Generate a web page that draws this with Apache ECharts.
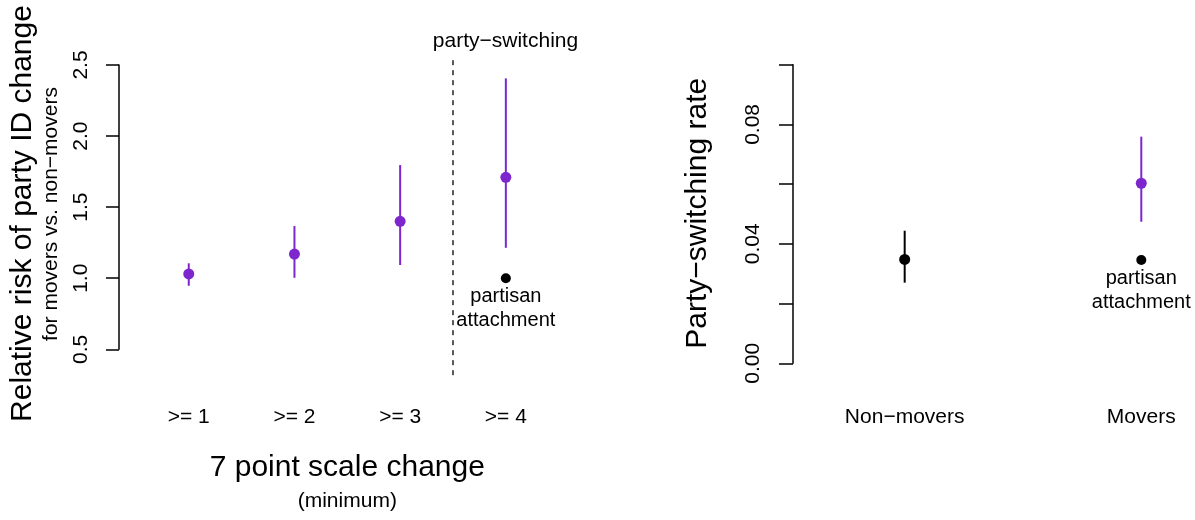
<!DOCTYPE html>
<html>
<head>
<meta charset="utf-8">
<script src="https://cdn.jsdelivr.net/npm/echarts@6/dist/echarts.min.js"></script>
<style>
  html, body { margin: 0; padding: 0; background: #fff; }
  #chart { width: 1195px; height: 520px; }
</style>
</head>
<body>
<div id="chart"></div>
<script>
// left panel: relative risk by minimum change on the 7 point scale
const scaleCats = [">= 1", ">= 2", ">= 3", ">= 4"];
const scalePos = [1, 2, 3, 4];
const rrEst = [1.03, 1.17, 1.40, 1.71];
const rrLow = [0.947, 1.003, 1.093, 1.214];
const rrHigh = [1.105, 1.367, 1.796, 2.406];
const rrTicks = [0.5, 1.0, 1.5, 2.0, 2.5];
// partisan attachment reference (at ">= 4")
const rrPartisanPos = 4;
const rrPartisan = 1.0;
// dashed divider between attachment and party-switching
const dividerX = 3.5;
const dividerSpan = [0.318, 2.556];

// right panel: party-switching rate
const moverCats = ["Non\u2212movers", "Movers"];
const moverPos = [1, 2];
const switchEst = [0.0348, 0.0603];
const switchLow = [0.0270, 0.0474];
const switchHigh = [0.0444, 0.0759];
const switchLabelTicks = [0, 0.04, 0.08];
const switchPartisanPos = 2;
const switchPartisan = 0.0346;

const PURPLE = "#7D26CD";
const moverColors = ["#000000", PURPLE];
const FONT = "Liberation Sans";

const errBar = (colorOf) => (params, api) => {
  const hi = api.coord([api.value(0), api.value(2)]);
  const lo = api.coord([api.value(0), api.value(1)]);
  return {
    type: "line",
    shape: { x1: hi[0], y1: hi[1], x2: lo[0], y2: lo[1] },
    style: { stroke: colorOf(params.dataIndex), lineWidth: 2 },
  };
};

const axisLineStyle = { color: "#000", width: 1.5 };
const partisanLabel = {
  show: true,
  position: "bottom",
  distance: 2,
  formatter: "partisan\nattachment",
  color: "#000",
  opacity: 1,
  fontFamily: FONT,
  fontSize: 20,
  lineHeight: 23.5,
};

const option = {
  animation: false,
  textStyle: { fontFamily: FONT },
  grid: [
    { left: 119, top: 65, width: 456.6, height: 284.3 },
    { left: 793, top: 64.7, width: 402, height: 298.6 },
  ],
  xAxis: [
    {
      gridIndex: 0,
      type: "value",
      min: 0.34,
      max: 4.66,
      splitLine: { show: false },
      axisLine: { show: false },
      axisTick: { show: false },
      axisLabel: {
        customValues: scalePos,
        formatter: (v) => scaleCats[Math.round(v) - 1],
        color: "#000",
        fontSize: 21,
        margin: 57,
        fontFamily: FONT,
      },
      name: "{a|7 point scale change}\n{b|(minimum)}",
      nameLocation: "middle",
      nameGap: 100,
      nameTextStyle: {
        rich: {
          a: { fontSize: 30, lineHeight: 36, color: "#000", fontFamily: FONT },
          b: { fontSize: 21, lineHeight: 32, color: "#000", fontFamily: FONT },
        },
      },
    },
    {
      gridIndex: 1,
      type: "value",
      min: 0.528,
      max: 2.227,
      splitLine: { show: false },
      axisLine: { show: false },
      axisTick: { show: false },
      axisLabel: {
        customValues: moverPos,
        formatter: (v) => moverCats[Math.round(v) - 1],
        color: "#000",
        fontSize: 21,
        margin: 43,
        fontFamily: FONT,
      },
    },
  ],
  yAxis: [
    {
      gridIndex: 0,
      type: "value",
      min: 0.5,
      max: 2.5,
      interval: 0.5,
      splitLine: { show: false },
      axisLine: { show: true, lineStyle: axisLineStyle },
      axisTick: { show: true, length: 13, lineStyle: axisLineStyle },
      axisLabel: {
        rotate: 90,
        margin: 27,
        color: "#000",
        fontSize: 21,
        fontFamily: FONT,
        formatter: (v) => (rrTicks.some((t) => Math.abs(t - v) < 1e-9) ? v.toFixed(1) : ""),
      },
    },
    {
      gridIndex: 1,
      type: "value",
      min: 0,
      max: 0.1,
      interval: 0.02,
      splitLine: { show: false },
      axisLine: { show: true, lineStyle: axisLineStyle },
      axisTick: { show: true, length: 14, lineStyle: axisLineStyle },
      axisLabel: {
        rotate: 90,
        margin: 29,
        color: "#000",
        fontSize: 21,
        fontFamily: FONT,
        formatter: (v) => (switchLabelTicks.some((t) => Math.abs(t - v) < 1e-9) ? v.toFixed(2) : ""),
      },
    },
  ],
  graphic: [
    {
      type: "text",
      x: 23,
      y: 213.5,
      rotation: Math.PI / 2,
      style: { text: "Relative risk of party ID change", font: `30px "${FONT}"`, fill: "#000", align: "center", verticalAlign: "middle" },
    },
    {
      type: "text",
      x: 51.5,
      y: 214,
      rotation: Math.PI / 2,
      style: { text: "for movers vs. non\u2212movers", font: `21px "${FONT}"`, fill: "#000", align: "center", verticalAlign: "middle" },
    },
    {
      type: "text",
      x: 505.5,
      y: 41.7,
      style: { text: "party\u2212switching", font: `21px "${FONT}"`, fill: "#000", align: "center", verticalAlign: "middle" },
    },
    {
      type: "text",
      x: 697.5,
      y: 213.3,
      rotation: Math.PI / 2,
      style: { text: "Party\u2212switching rate", font: `30px "${FONT}"`, fill: "#000", align: "center", verticalAlign: "middle" },
    },
  ],
  series: [
    {
      type: "line",
      xAxisIndex: 0,
      yAxisIndex: 0,
      clip: false,
      symbol: "none",
      silent: true,
      data: dividerSpan.map((y) => [dividerX, y]),
      lineStyle: { color: "#000", width: 1.3, type: [5, 5], opacity: 1 },
    },
    {
      type: "custom",
      xAxisIndex: 0,
      yAxisIndex: 0,
      clip: false,
      renderItem: errBar(() => PURPLE),
      data: scalePos.map((x, i) => [x, rrLow[i], rrHigh[i]]),
      z: 2,
    },
    {
      type: "scatter",
      xAxisIndex: 0,
      yAxisIndex: 0,
      symbolSize: 11,
      itemStyle: { color: PURPLE, opacity: 1 },
      data: scalePos.map((x, i) => [x, rrEst[i]]),
      z: 3,
    },
    {
      type: "scatter",
      xAxisIndex: 0,
      yAxisIndex: 0,
      symbolSize: 10,
      itemStyle: { color: "#000", opacity: 1 },
      label: partisanLabel,
      data: [[rrPartisanPos, rrPartisan]],
      z: 3,
    },
    {
      type: "custom",
      xAxisIndex: 1,
      yAxisIndex: 1,
      clip: false,
      renderItem: errBar((i) => moverColors[i]),
      data: moverPos.map((x, i) => [x, switchLow[i], switchHigh[i]]),
      z: 2,
    },
    {
      type: "scatter",
      xAxisIndex: 1,
      yAxisIndex: 1,
      symbolSize: 11,
      itemStyle: { opacity: 1 },
      data: moverPos.map((x, i) => ({ value: [x, switchEst[i]], itemStyle: { color: moverColors[i], opacity: 1 } })),
      z: 3,
    },
    {
      type: "scatter",
      xAxisIndex: 1,
      yAxisIndex: 1,
      symbolSize: 10,
      itemStyle: { color: "#000", opacity: 1 },
      label: partisanLabel,
      data: [[switchPartisanPos, switchPartisan]],
      z: 3,
    },
  ],
};

const myChart = echarts.init(document.getElementById("chart"));
myChart.setOption(option);
</script>
</body>
</html>
